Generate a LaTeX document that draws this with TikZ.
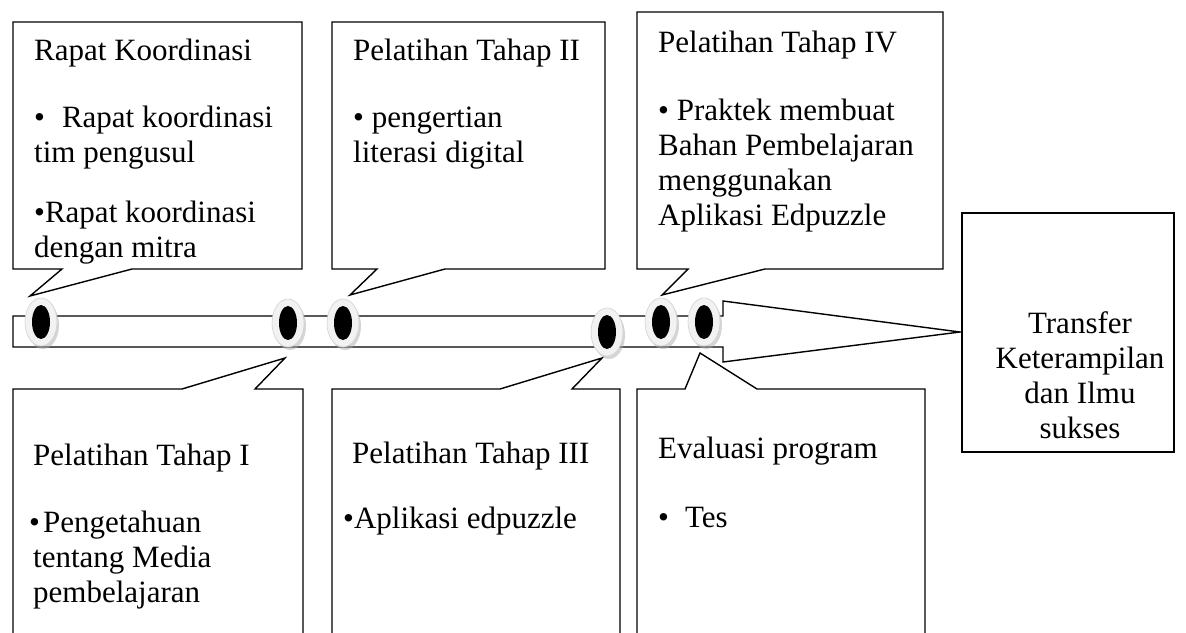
\documentclass[tikz,border=0pt]{standalone}
\usepackage{fontspec}
\setmainfont{Liberation Serif}
\usepackage{tikz}
\usetikzlibrary{shapes.geometric,shadows}

\begin{document}
\begin{tikzpicture}[x=1pt,y=-1pt,
  box/.style={draw,line width=1.4pt,fill=white},
  txt/.style={anchor=north west,inner sep=0pt,align=left,font=\fontsize{31}{35}\selectfont},
  ring/.style={ellipse,draw=gray!35,line width=0.6pt,fill=gray!10,minimum width=32pt,minimum height=48pt,inner sep=0pt,
    drop shadow={shadow xshift=2pt,shadow yshift=-3pt,fill=gray!65}},
  hole/.style={ellipse,fill=black,minimum width=18pt,minimum height=34pt,inner sep=0pt}]
\useasboundingbox (0,0) rectangle (1186,632);
% timeline arrow
\draw[box] (13,316) -- (723,316) -- (723,301) -- (960,332) -- (723,362) -- (723,347) -- (13,347) -- cycle;
% result
\draw[box] (962,213) rectangle (1174,452);
\node[txt,anchor=north,align=center] (hasil) at (1080,311) {Transfer\\Keterampilan\\dan Ilmu\\sukses};
% callouts above the line
\draw[box] (13,22) -- (302,22) -- (302,269) -- (132,269) -- (30,296) -- (62,269) -- (13,269) -- cycle;
\node[txt] (rapat) at (34,39) {Rapat Koordinasi\\[32pt]•\hspace{17pt}Rapat koordinasi\\tim pengusul\\[25pt]•Rapat koordinasi\\dengan mitra};
\draw[box] (332,22) -- (605,22) -- (605,269) -- (445,269) -- (350,295) -- (377,269) -- (332,269) -- cycle;
\node[txt] (tahapII) at (353,39) {Pelatihan Tahap II\\[32pt]• pengertian\\literasi digital};
\draw[box] (637,12) -- (943,12) -- (943,269) -- (765,269) -- (662,295) -- (688,269) -- (637,269) -- cycle;
\node[txt] (tahapIV) at (658,31) {Pelatihan Tahap IV\\[33pt]• Praktek membuat\\Bahan Pembelajaran\\menggunakan\\Aplikasi Edpuzzle};
% callouts below the line
\draw[box] (13,634) -- (13,389) -- (182,389) -- (285,358) -- (255,389) -- (303,389) -- (303,634);
\node[txt] (tahapI) at (33,444) {Pelatihan Tahap I\\[32pt]\hspace{-4pt}•\hspace{3pt}Pengetahuan\\tentang Media\\pembelajaran};
\draw[box] (332,634) -- (332,389) -- (500,389) -- (602,358) -- (572,389) -- (620,389) -- (620,634);
\node[txt] (tahapIII) at (352,442) {Pelatihan Tahap III\\[30pt]\hspace{-9pt}•Aplikasi edpuzzle};
\draw[box] (637,634) -- (637,389) -- (685,389) -- (700,353) -- (757,389) -- (925,389) -- (925,634);
\node[txt] (evaluasi) at (658,437) {Evaluasi program\\[34pt]•\hspace{16pt}Tes};
% pins on the line
\foreach \n/\x/\y in {1/41/322,2/288/323,3/343/323,4/607/332,5/661/322,6/704/322}{
  \node[ring] (p\n) at (\x,\y) {};
  \node[hole] (h\n) at (p\n) {};
}
\end{tikzpicture}
\end{document}
